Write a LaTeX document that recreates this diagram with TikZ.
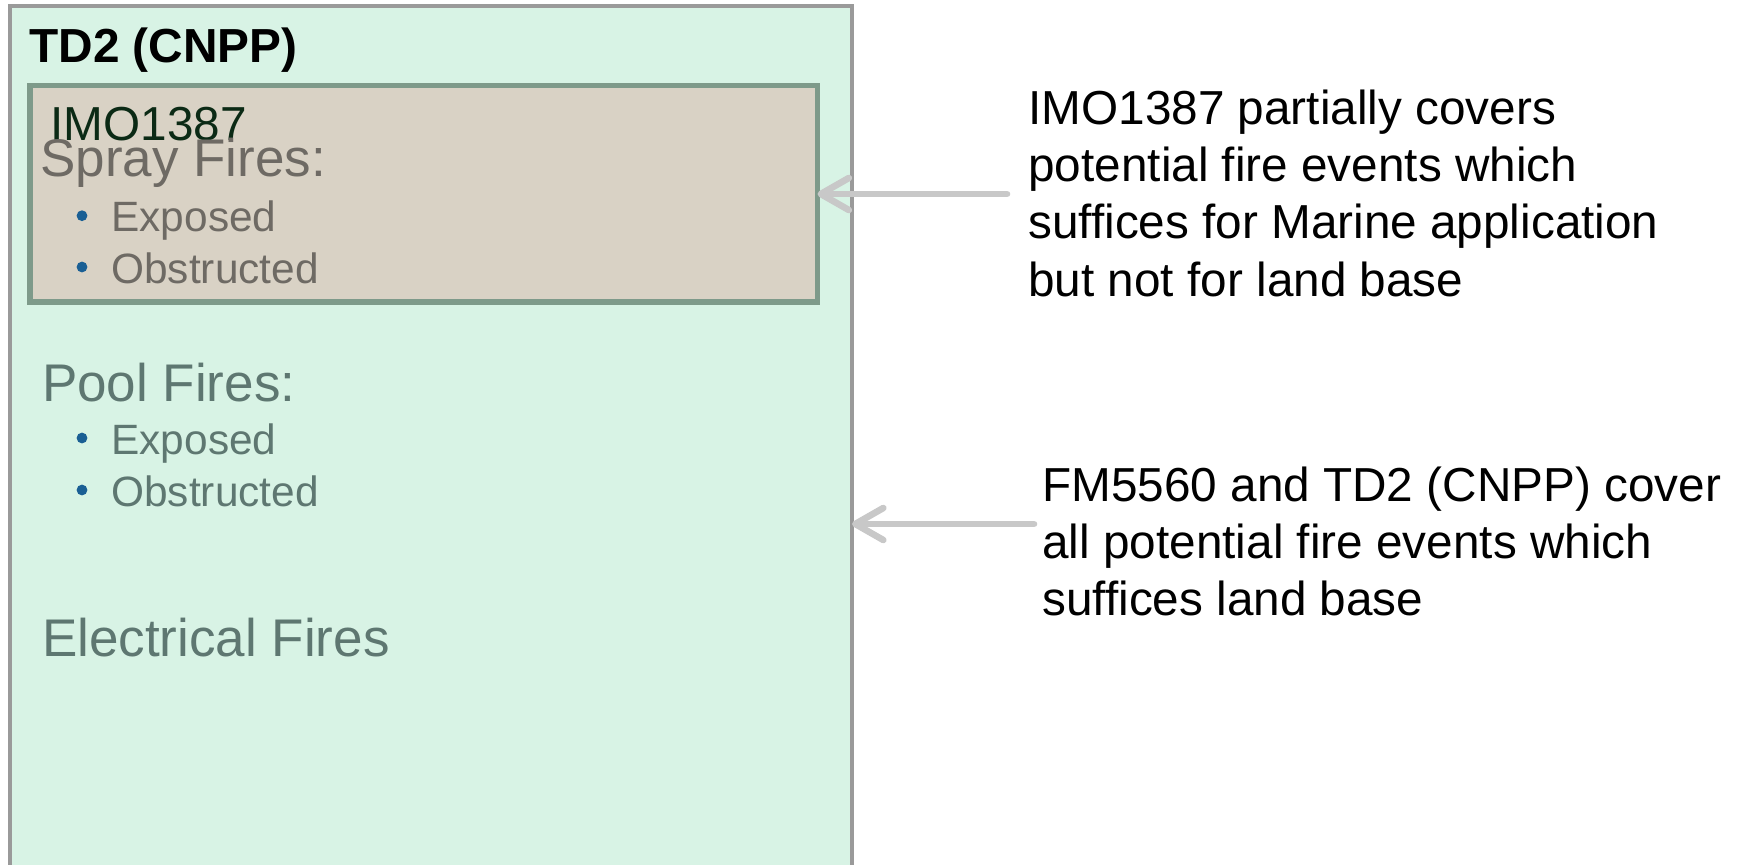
\documentclass[tikz,border=0pt]{standalone}
\usepackage{fontspec}
\setmainfont{Liberation Sans}
\usepackage{tikz}
\usetikzlibrary{
    arrows.meta,
    positioning
}
\definecolor{MintFill}{HTML}{D8F3E5}
\definecolor{FrameGray}{HTML}{9A9A9A}
\definecolor{SandFill}{HTML}{D9D2C5}
\definecolor{SageLine}{HTML}{7E9A8A}
\definecolor{ArrowGray}{HTML}{C8C8C8}
\definecolor{DarkGreen}{HTML}{0B2A15}
\definecolor{StoneGray}{HTML}{6E6A64}
\definecolor{SlateTeal}{HTML}{5E7771}
\definecolor{BulletBlue}{HTML}{1A5F94}
\tikzset{
  tdbox/.style    = {draw=FrameGray, fill=MintFill, line width=2.3pt,
                     anchor=north west, outer sep=0pt, inner sep=0pt},
  imobox/.style   = {draw=SageLine, fill=SandFill, line width=2.8pt,
                     anchor=north west, outer sep=0pt, inner sep=0pt},
  tdtitle/.style  = {anchor=base west, inner sep=0pt,
                     font=\bfseries\fontsize{23.9}{28}\selectfont},
  firehead/.style = {anchor=base west, inner sep=0pt,
                     font=\fontsize{26.5}{32}\selectfont},
  fireitem/.style = {anchor=base west, inner sep=0pt,
                     font=\fontsize{21.2}{25}\selectfont},
  notetext/.style = {anchor=base west, inner sep=0pt, align=left,
                     font=\fontsize{23.85}{28.6}\selectfont},
  arr/.style      = {-{Straight Barb[length=14pt,width=16pt,round]},
                     ArrowGray, line width=3.3pt, line cap=round}
}

\begin{document}
\begin{tikzpicture}[x=0.5pt,y=-0.5pt]
\clip (0,0) rectangle (1741,864);
\node[tdbox, minimum width=421pt, minimum height=460pt] (td2) at (10,6) {};
\node[imobox, minimum width=393.75pt, minimum height=108.25pt] (imo) at (30,85.5) {};
\node[tdtitle] (td2label) at (29,62) {TD2 (CNPP)};
\node[notetext, DarkGreen] (imolabel) at (50,140) {IMO1387};
\node[firehead, StoneGray] (spray) at (40,176) {Spray Fires:};
\node[firehead, SlateTeal] (pool) at (41.7,401) {Pool Fires:};
\node[firehead, SlateTeal] (electrical) at (41.7,656) {Electrical Fires};
\foreach \y/\t/\c [count=\i] in {231.7/Exposed/StoneGray, 283/Obstructed/StoneGray,
                                 454/Exposed/SlateTeal, 506/Obstructed/SlateTeal}{
  \fill[BulletBlue] (82,\y-16) circle (2.7pt);
  \node[fireitem, text=\c] (item\i) at (111,\y) {\t};
}
\node[notetext] (imonote) at (1028,296)
  {IMO1387 partially covers\\potential fire events which\\suffices for Marine application\\but not for land base};
\node[notetext] (fmnote) at (1042,615.7)
  {FM5560 and TD2 (CNPP) cover\\all potential fire events which\\suffices land base};
\coordinate (imotail) at (1007,194);
\coordinate (fmtail) at (1034,524);
\draw[arr] (imotail) -- (imo.east |- imotail);
\draw[arr] (fmtail) -- (td2.east |- fmtail);
\end{tikzpicture}
\end{document}
